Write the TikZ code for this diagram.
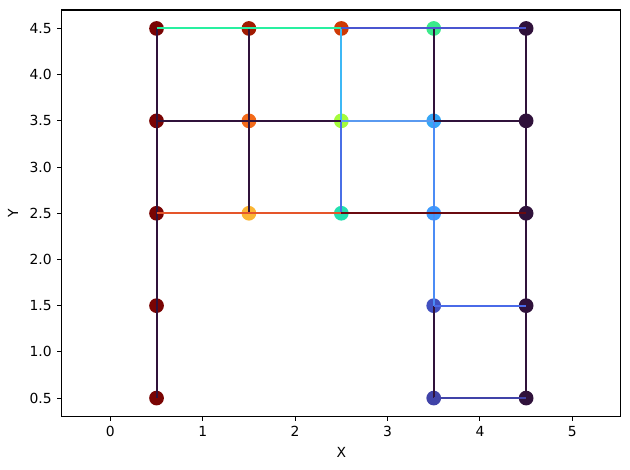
\documentclass[tikz,border=0pt]{standalone}
\usepackage{fontspec}
\setmainfont{DejaVu Sans}
\definecolor{cDeep}{HTML}{30123B}
\definecolor{cMaroon}{HTML}{7A0403}
\definecolor{cRust}{HTML}{A11B02}
\definecolor{cVermil}{HTML}{CF3A05}
\definecolor{cMint}{HTML}{3BEA8B}
\definecolor{cTang}{HTML}{F36A1A}
\definecolor{cLime}{HTML}{A4FC3C}
\definecolor{cSky}{HTML}{35A6F6}
\definecolor{cAmber}{HTML}{FBB635}
\definecolor{cTeal}{HTML}{22E0B0}
\definecolor{cAzure}{HTML}{3E9BFE}
\definecolor{cIndigo}{HTML}{4150C0}
\definecolor{cNavy}{HTML}{4043A8}
\definecolor{cAqua}{HTML}{28F0A0}
\definecolor{cCyan}{HTML}{3EB8F5}
\definecolor{cRoyal}{HTML}{4A6FE6}
\definecolor{cCorn}{HTML}{4B8CF5}
\definecolor{cSteel}{HTML}{4A55D0}
\definecolor{cPale}{HTML}{5A9AF0}
\definecolor{cFlame}{HTML}{E5552A}
\definecolor{cBrick}{HTML}{6A0A10}
\definecolor{cCobalt}{HTML}{4A6AE8}
\tikzset{
  pt/.style={circle,inner sep=0pt,minimum size=10.6pt,fill=#1},
  link/.style={line width=1.4pt,color=#1},
  tick/.style={line width=.8pt}
}
\begin{document}
\begin{tikzpicture}[x=2.338cm,y=2.338cm,font=\fontsize{10pt}{12pt}\selectfont]
\useasboundingbox (-1.194,-0.278) rectangle (5.624,4.808);
\draw[line width=.8pt] (-0.526,0.3) rectangle (5.524,4.7);
\foreach \x in {0,1,2,3,4,5}{
  \draw[tick] (\x,0.3) -- ++(0,-3.5pt);
  \node[anchor=north,inner sep=0pt] at ([yshift=-7pt]\x,0.3) {\x};}
\foreach \y in {0.5,1.0,1.5,2.0,2.5,3.0,3.5,4.0,4.5}{
  \draw[tick] (-0.526,\y) -- ++(-3.5pt,0);
  \node[anchor=east,inner sep=0pt] at ([xshift=-7pt]-0.526,\y) {\y};}
\node (xlab) at (2.5,-0.083) {X};
\node[rotate=90] (ylab) at (-1.053,2.5) {Y};
% points
\node[pt=cMaroon] (v04) at (0.5,4.5) {};
\node[pt=cRust] (v14) at (1.5,4.5) {};
\node[pt=cVermil] (v24) at (2.5,4.5) {};
\node[pt=cMint] (v34) at (3.5,4.5) {};
\node[pt=cDeep] (v44) at (4.5,4.5) {};
\node[pt=cMaroon] (v03) at (0.5,3.5) {};
\node[pt=cTang] (v13) at (1.5,3.5) {};
\node[pt=cLime] (v23) at (2.5,3.5) {};
\node[pt=cSky] (v33) at (3.5,3.5) {};
\node[pt=cDeep] (v43) at (4.5,3.5) {};
\node[pt=cMaroon] (v02) at (0.5,2.5) {};
\node[pt=cAmber] (v12) at (1.5,2.5) {};
\node[pt=cTeal] (v22) at (2.5,2.5) {};
\node[pt=cAzure] (v32) at (3.5,2.5) {};
\node[pt=cDeep] (v42) at (4.5,2.5) {};
\node[pt=cMaroon] (v01) at (0.5,1.5) {};
\node[pt=cIndigo] (v31) at (3.5,1.5) {};
\node[pt=cDeep] (v41) at (4.5,1.5) {};
\node[pt=cMaroon] (v00) at (0.5,0.5) {};
\node[pt=cNavy] (v30) at (3.5,0.5) {};
\node[pt=cDeep] (v40) at (4.5,0.5) {};
% vertical links
\foreach \a/\b in {v04/v03,v03/v02,v02/v01,v01/v00,v14/v13,v13/v12,v34/v33,v31/v30,v44/v43,v43/v42,v42/v41,v41/v40}
  \draw[link=cDeep] (\a.center) -- (\b.center);
\draw[link=cCyan] (v24.center) -- (v23.center);
\draw[link=cRoyal] (v23.center) -- (v22.center);
\draw[link=cCorn] (v33.center) -- (v32.center);
\draw[link=cCorn] (v32.center) -- (v31.center);
% horizontal links
\draw[link=cAqua] (v04.center) -- (v14.center) -- (v24.center);
\draw[link=cSteel] (v24.center) -- (v34.center) -- (v44.center);
\draw[link=cDeep] (v03.center) -- (v13.center) -- (v23.center);
\draw[link=cPale] (v23.center) -- (v33.center);
\draw[link=cDeep] (v33.center) -- (v43.center);
\draw[link=cFlame] (v02.center) -- (v12.center) -- (v22.center);
\draw[link=cBrick] (v22.center) -- (v32.center) -- (v42.center);
\draw[link=cCobalt] (v31.center) -- (v41.center);
\draw[link=cNavy] (v30.center) -- (v40.center);
\end{tikzpicture}
\end{document}
